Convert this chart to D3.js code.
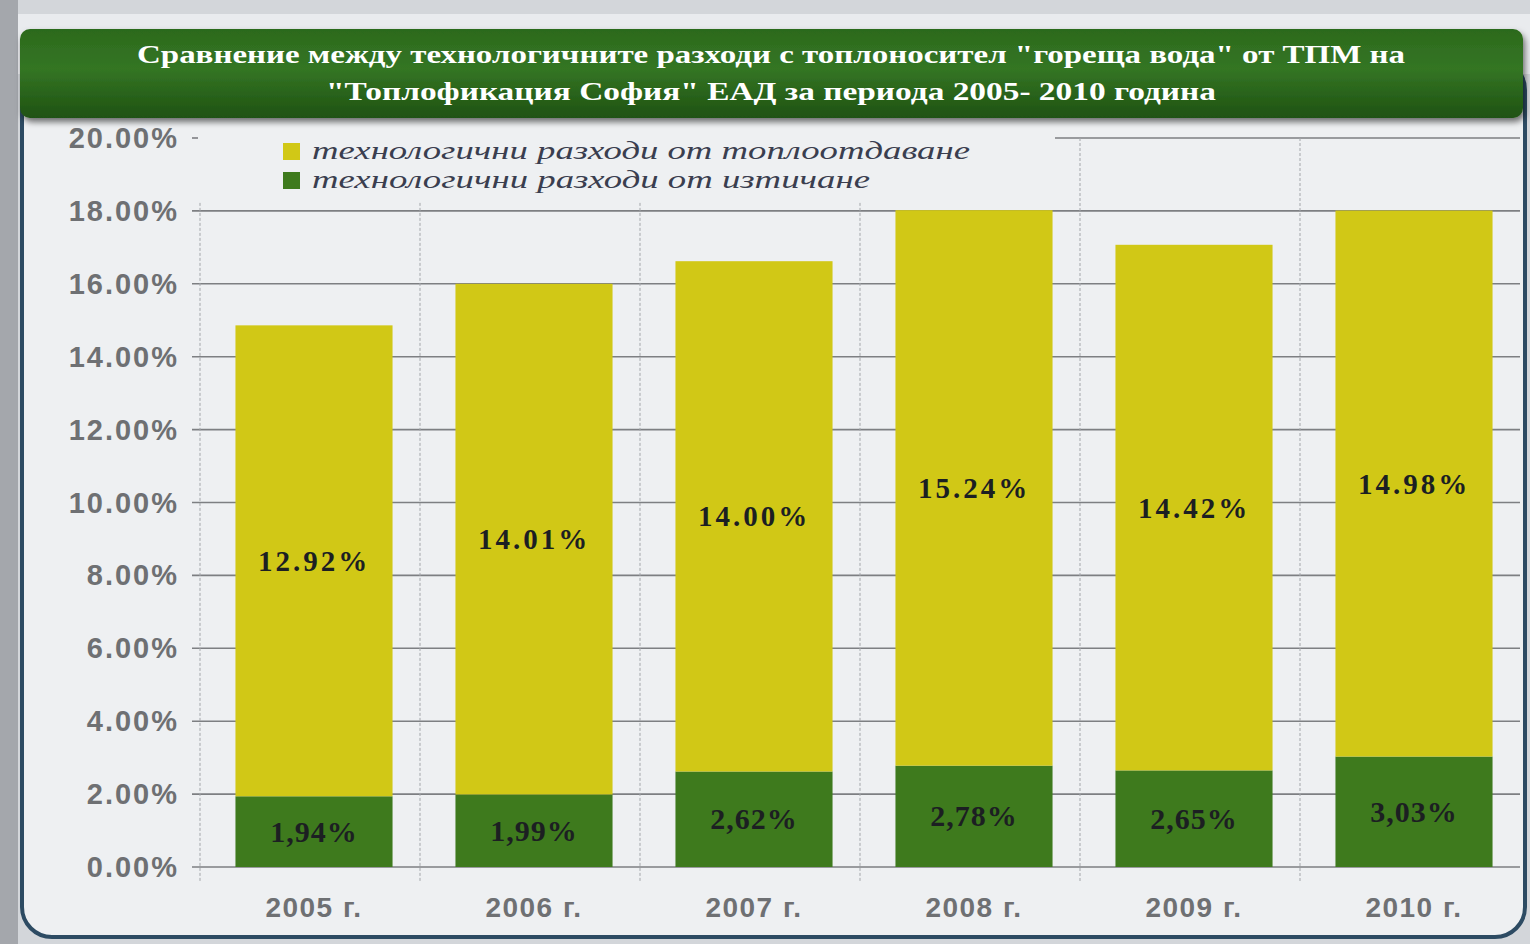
<!DOCTYPE html>
<html>
<head>
<meta charset="utf-8">
<script src="https://cdn.jsdelivr.net/npm/d3@7"></script>
<style>
  html, body { margin: 0; padding: 0; background: #c9ccd0; }
  svg { display: block; }
</style>
</head>
<body>
<svg id="chart" width="1530" height="944"></svg>
<script>
// data
const years = ["2005 г.", "2006 г.", "2007 г.", "2008 г.", "2009 г.", "2010 г."];
const leakage = [1.94, 1.99, 2.62, 2.78, 2.65, 3.03];       // изтичане
const heatLoss = [12.92, 14.01, 14.00, 15.24, 14.42, 14.98]; // топлоотдаване
const yTicks = [0, 2, 4, 6, 8, 10, 12, 14, 16, 18, 20];
const seriesNames = ["технологични разходи от топлоотдаване", "технологични разходи от изтичане"];
const titleLines = [
  "Сравнение между технологичните разходи с топлоносител \"гореща вода\" от ТПМ на",
  "\"Топлофикация София\" ЕАД за периода 2005- 2010 година"
];

const svg = d3.select("#chart");
const W = 1530, H = 944;
const colYellow = "#d1c816", colGreen = "#3e7a1d";

// фон
const defs = svg.append("defs");
const gGrad = defs.append("linearGradient").attr("id", "bannerGrad")
  .attr("x1", 0).attr("y1", 0).attr("x2", 0).attr("y2", 1);
gGrad.append("stop").attr("offset", "0%").attr("stop-color", "#2c6a1c");
gGrad.append("stop").attr("offset", "45%").attr("stop-color", "#347524");
gGrad.append("stop").attr("offset", "100%").attr("stop-color", "#1f5212");
const shadow = defs.append("filter").attr("id", "shadow").attr("x", "-5%").attr("y", "-20%").attr("width", "110%").attr("height", "160%");
shadow.append("feDropShadow").attr("dx", 2).attr("dy", 4).attr("stdDeviation", 3).attr("flood-color", "#000").attr("flood-opacity", 0.55);

svg.append("rect").attr("width", W).attr("height", H).attr("fill", "#d3d6da");
svg.append("rect").attr("x", 0).attr("y", 0).attr("width", 18).attr("height", H).attr("fill", "#a4a7ac");
svg.append("rect").attr("x", 18).attr("y", 14).attr("width", W - 18).attr("height", 60).attr("fill", "#e9ebee");

// панел
svg.append("rect")
  .attr("x", 22).attr("y", 60).attr("width", 1503).attr("height", 877)
  .attr("rx", 30).attr("ry", 30)
  .attr("fill", "#eef0f2")
  .attr("stroke", "#2d4b63")
  .attr("stroke-width", 4);

// скали
const x = d3.scaleBand().domain(years).range([204, 1524]).paddingInner(0.286).paddingOuter(0.143);
const y = d3.scaleLinear().domain([0, 20]).range([867, 138]);

// хоризонтални линии
svg.append("g").selectAll("line")
  .data(yTicks)
  .join("line")
  .attr("x1", d => d === 20 ? 1055 : 192).attr("x2", 1520)
  .attr("y1", d => y(d)).attr("y2", d => y(d))
  .attr("stroke", "#7d7f82")
  .attr("stroke-width", 1.6);
svg.append("line").attr("x1", 192).attr("x2", 198).attr("y1", y(20)).attr("y2", y(20))
  .attr("stroke", "#7d7f82").attr("stroke-width", 1.6);

// вертикални линии
const vLines = years.map(d => x(d) - x.step() * x.paddingInner() / 2 - 4);
svg.append("g").selectAll("line")
  .data(vLines)
  .join("line")
  .attr("x1", d => d).attr("x2", d => d)
  .attr("y1", (d, i) => i < 4 ? y(18) - 8 : y(20)).attr("y2", y(0) + 14)
  .attr("stroke", "#a3a6aa")
  .attr("stroke-width", 1)
  .attr("stroke-dasharray", "3,2");

// стойности на оста
svg.append("g").selectAll("text")
  .data(yTicks)
  .join("text")
  .attr("x", 179).attr("y", d => y(d) + 10)
  .attr("text-anchor", "end")
  .attr("font-family", "'Liberation Sans', Arial, sans-serif")
  .attr("font-size", "29px").attr("font-weight", "700")
  .attr("letter-spacing", "2px")
  .attr("fill", "#6e7073")
  .text(d => d.toFixed(2) + "%");

// колони
const bars = svg.append("g");
bars.selectAll(".g").data(years).join("rect")
  .attr("x", d => x(d)).attr("width", x.bandwidth())
  .attr("y", (d, i) => y(leakage[i])).attr("height", (d, i) => y(0) - y(leakage[i]))
  .attr("fill", colGreen);
bars.selectAll(".yl").data(years).join("rect")
  .attr("x", d => x(d)).attr("width", x.bandwidth())
  .attr("y", (d, i) => y(leakage[i] + heatLoss[i]))
  .attr("height", (d, i) => y(leakage[i]) - y(leakage[i] + heatLoss[i]))
  .attr("fill", colYellow);

// етикети
const lbl = svg.append("g")
  .attr("font-family", "'Liberation Serif', 'Times New Roman', serif")
  .attr("font-weight", "700")
  .attr("fill", "#1c1f22")
  .attr("text-anchor", "middle");
lbl.selectAll(".a").data(years).join("text")
  .attr("x", d => x(d) + x.bandwidth() / 2)
  .attr("y", (d, i) => y(leakage[i] + heatLoss[i] / 2) + 10)
  .attr("font-size", "29px")
  .attr("letter-spacing", "3px")
  .text((d, i) => heatLoss[i].toFixed(2) + "%");
lbl.selectAll(".b").data(years).join("text")
  .attr("x", d => x(d) + x.bandwidth() / 2)
  .attr("y", (d, i) => y(leakage[i] / 2) + 10)
  .attr("font-size", "30px")
  .attr("letter-spacing", "1px")
  .text((d, i) => leakage[i].toFixed(2).replace(".", ",") + "%");

// категории
svg.append("g").selectAll("text")
  .data(years)
  .join("text")
  .attr("x", d => x(d) + x.bandwidth() / 2)
  .attr("y", 917)
  .attr("text-anchor", "middle")
  .attr("font-family", "'Liberation Sans', Arial, sans-serif")
  .attr("font-size", "28px").attr("font-weight", "700")
  .attr("letter-spacing", "1.5px")
  .attr("fill", "#6e7073")
  .text(d => d);

// легенда
const leg = svg.append("g");
leg.selectAll("rect").data(seriesNames).join("rect")
  .attr("x", 283).attr("y", (d, i) => 143 + i * 29)
  .attr("width", 17).attr("height", 17)
  .attr("fill", (d, i) => i === 0 ? colYellow : colGreen);
leg.selectAll("text").data(seriesNames).join("text")
  .attr("x", 312).attr("y", (d, i) => 159 + i * 29)
  .attr("font-family", "'Liberation Serif', 'Times New Roman', serif")
  .attr("font-style", "italic")
  .attr("font-size", "25px")
  .attr("fill", "#3a3e4f")
  .attr("textLength", (d, i) => i === 0 ? 658 : 558)
  .attr("lengthAdjust", "spacingAndGlyphs")
  .text(d => d);

// заглавие
svg.append("rect")
  .attr("x", 20).attr("y", 29).attr("width", 1503).attr("height", 89)
  .attr("rx", 10).attr("ry", 10)
  .attr("fill", "url(#bannerGrad)")
  .attr("filter", "url(#shadow)");
svg.append("g").selectAll("text")
  .data(titleLines)
  .join("text")
  .attr("x", 771).attr("y", (d, i) => 63 + i * 37)
  .attr("text-anchor", "middle")
  .attr("font-family", "'Liberation Serif', 'Times New Roman', serif")
  .attr("font-weight", "700")
  .attr("font-size", "26px")
  .attr("fill", "#ffffff")
  .attr("textLength", (d, i) => i === 0 ? 1268 : 890)
  .attr("lengthAdjust", "spacingAndGlyphs")
  .text(d => d);
</script>
</body>
</html>
